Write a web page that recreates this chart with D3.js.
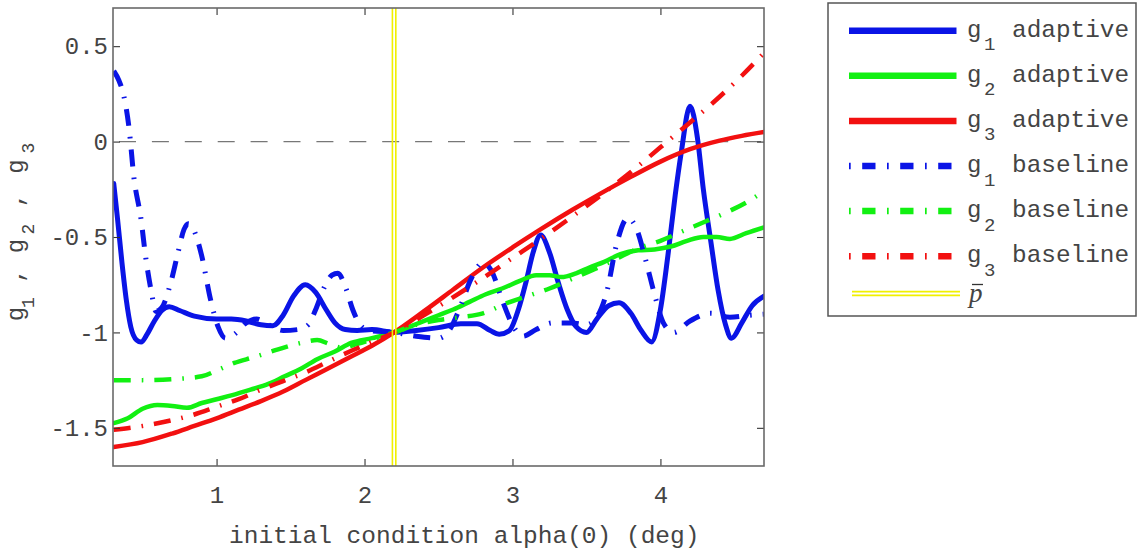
<!DOCTYPE html>
<html>
<head>
<meta charset="utf-8">
<script src="https://cdn.jsdelivr.net/npm/d3@7"></script>
<style>
  html, body { margin: 0; padding: 0; background: #fff; }
  svg { display: block; }
  text { font-family: "Liberation Mono", "DejaVu Sans Mono", monospace; fill: #444; }
</style>
</head>
<body>
<svg id="chart" width="1139" height="552"></svg>
<script>
// ---- axis ticks ----
const xTicks = [1, 2, 3, 4];
const yTicks = [-1.5, -1, -0.5, 0, 0.5];
const xLabel = "initial condition alpha(0) (deg)";

// reference initial condition (p-bar)
const pBar = 2.2;

// ---- series: [alpha(0) in deg, g value] ----
const g1Adaptive = [
  [0.305, -0.22], [0.33, -0.40], [0.36, -0.63], [0.39, -0.83], [0.42, -0.97], [0.46, -1.04],
  [0.49, -1.05], [0.53, -1.01], [0.58, -0.94], [0.63, -0.885], [0.68, -0.865], [0.75, -0.885],
  [0.85, -0.915], [1.0, -0.93], [1.1, -0.93], [1.2, -0.94], [1.3, -0.96], [1.38, -0.965],
  [1.45, -0.91], [1.52, -0.81], [1.60, -0.75], [1.67, -0.79], [1.74, -0.88], [1.80, -0.95],
  [1.87, -0.985], [1.95, -0.99], [2.05, -0.985], [2.2, -1.0], [2.35, -0.99], [2.5, -0.975],
  [2.65, -0.955], [2.76, -0.955], [2.85, -0.99], [2.91, -1.01], [2.98, -0.99], [3.04, -0.88],
  [3.09, -0.74], [3.14, -0.58], [3.19, -0.49], [3.25, -0.58], [3.31, -0.74], [3.37, -0.88],
  [3.43, -0.97], [3.5, -1.0], [3.57, -0.93], [3.65, -0.86], [3.72, -0.845], [3.80, -0.9],
  [3.87, -0.99], [3.94, -1.05], [4.0, -0.88], [4.05, -0.60], [4.10, -0.28], [4.14, -0.06],
  [4.20, 0.185], [4.25, 0.02], [4.29, -0.25], [4.34, -0.52], [4.39, -0.78], [4.44, -0.96],
  [4.48, -1.03], [4.55, -0.95], [4.62, -0.86], [4.7, -0.81]
];

const g2Adaptive = [
  [0.305, -1.475], [0.4, -1.45], [0.5, -1.40], [0.6, -1.38], [0.7, -1.385], [0.8, -1.395],
  [0.9, -1.37], [1.0, -1.35], [1.1, -1.33], [1.23, -1.30], [1.35, -1.27], [1.46, -1.23],
  [1.57, -1.19], [1.68, -1.14], [1.8, -1.10], [1.91, -1.055], [2.05, -1.03], [2.2, -1.0],
  [2.37, -0.95], [2.5, -0.91], [2.6, -0.88], [2.71, -0.84], [2.82, -0.80], [2.93, -0.77],
  [3.05, -0.73], [3.16, -0.70], [3.25, -0.70], [3.33, -0.71], [3.43, -0.69], [3.52, -0.66],
  [3.62, -0.63], [3.73, -0.59], [3.85, -0.57], [3.96, -0.565], [4.07, -0.55], [4.18, -0.52],
  [4.29, -0.50], [4.38, -0.50], [4.47, -0.51], [4.58, -0.48], [4.7, -0.45]
];

const g3Adaptive = [
  [0.305, -1.60], [0.5, -1.575], [0.7, -1.53], [0.85, -1.49], [1.0, -1.45], [1.15, -1.405],
  [1.3, -1.36], [1.45, -1.31], [1.6, -1.25], [1.75, -1.19], [1.9, -1.13], [2.05, -1.07],
  [2.2, -1.0], [2.4, -0.89], [2.6, -0.775], [2.8, -0.66], [3.0, -0.555], [3.2, -0.455],
  [3.4, -0.36], [3.6, -0.27], [3.8, -0.185], [4.0, -0.105], [4.2, -0.04], [4.4, 0.005],
  [4.55, 0.03], [4.7, 0.05]
];

const g1Baseline = [
  [0.305, 0.37], [0.34, 0.32], [0.37, 0.25], [0.41, 0.06], [0.44, -0.18], [0.49, -0.41],
  [0.52, -0.60], [0.56, -0.79], [0.59, -0.89], [0.63, -0.87], [0.69, -0.74], [0.74, -0.58],
  [0.78, -0.46], [0.81, -0.43], [0.85, -0.47], [0.9, -0.6], [0.96, -0.83], [1.01, -0.97],
  [1.06, -1.03], [1.12, -1.01], [1.2, -0.95], [1.27, -0.93], [1.35, -0.96], [1.45, -0.99],
  [1.55, -0.985], [1.62, -0.96], [1.67, -0.88], [1.73, -0.76], [1.78, -0.70], [1.82, -0.69],
  [1.87, -0.76], [1.92, -0.88], [1.97, -0.96], [2.03, -0.99], [2.2, -1.0], [2.35, -1.02],
  [2.5, -1.03], [2.58, -0.98], [2.65, -0.86], [2.72, -0.72], [2.8, -0.635], [2.86, -0.68],
  [2.93, -0.83], [3.0, -0.96], [3.07, -1.02], [3.16, -0.985], [3.27, -0.95], [3.4, -0.95],
  [3.5, -0.96], [3.57, -0.92], [3.64, -0.78], [3.7, -0.55], [3.78, -0.40], [3.84, -0.46],
  [3.9, -0.62], [3.96, -0.8], [4.02, -0.95], [4.09, -1.0], [4.2, -0.94], [4.34, -0.90],
  [4.47, -0.92], [4.6, -0.91], [4.7, -0.905]
];

const g2Baseline = [
  [0.305, -1.25], [0.5, -1.25], [0.7, -1.245], [0.9, -1.23], [1.0, -1.2], [1.12, -1.16],
  [1.25, -1.13], [1.41, -1.09], [1.57, -1.055], [1.68, -1.04], [1.76, -1.06], [1.85, -1.08],
  [1.95, -1.06], [2.08, -1.03], [2.2, -1.0], [2.35, -0.96], [2.5, -0.935], [2.65, -0.92],
  [2.8, -0.9], [2.95, -0.85], [3.1, -0.81], [3.25, -0.77], [3.4, -0.72], [3.55, -0.67],
  [3.7, -0.615], [3.85, -0.56], [4.0, -0.52], [4.15, -0.47], [4.3, -0.42], [4.45, -0.37],
  [4.6, -0.31], [4.7, -0.26]
];

const g3Baseline = [
  [0.305, -1.51], [0.5, -1.49], [0.7, -1.46], [0.85, -1.43], [1.0, -1.39], [1.15, -1.35],
  [1.3, -1.30], [1.45, -1.255], [1.6, -1.21], [1.75, -1.155], [1.9, -1.10], [2.05, -1.05],
  [2.2, -1.0], [2.4, -0.91], [2.6, -0.815], [2.8, -0.715], [3.0, -0.61], [3.2, -0.505],
  [3.4, -0.395], [3.6, -0.28], [3.8, -0.16], [4.0, -0.03], [4.2, 0.10], [4.4, 0.235],
  [4.55, 0.345], [4.7, 0.465]
];

const seriesNames = ["1", "2", "3", "1", "2", "3"];
const seriesKinds = ["adaptive", "adaptive", "adaptive", "baseline", "baseline", "baseline"];
const seriesColors = ["#0a14e6", "#12f012", "#f21010", "#0a14e6", "#12f012", "#f21010"];
const seriesData = [g1Adaptive, g2Adaptive, g3Adaptive, g1Baseline, g2Baseline, g3Baseline];

// ---- layout ----
const svg = d3.select("#chart");
const plot = { left: 113, right: 764, top: 8, bottom: 466 };

const x = d3.scaleLinear().domain([0.3, 4.7]).range([plot.left, plot.right]);
const y = d3.scaleLinear().domain([-1.7, 0.7]).range([plot.bottom, plot.top]);

const dashDot = "17,11,1.6,11";
const dashDotLegend = "13.3,11.5,1.7,11.5";
const yellow = "#f0f000";

svg.append("defs").append("clipPath").attr("id", "plotClip")
  .append("rect")
  .attr("x", plot.left).attr("y", plot.top)
  .attr("width", plot.right - plot.left).attr("height", plot.bottom - plot.top);

// zero reference line
svg.append("line")
  .attr("x1", plot.left).attr("x2", plot.right)
  .attr("y1", y(0)).attr("y2", y(0))
  .attr("stroke", "#777").attr("stroke-width", 1.4)
  .attr("stroke-dasharray", "17,15.9").attr("stroke-dashoffset", -6);

// curves
const line = d3.line()
  .x(d => x(d[0]))
  .y(d => y(d[1]))
  .curve(d3.curveMonotoneX);

const curves = svg.append("g").attr("clip-path", "url(#plotClip)");
seriesData.forEach((data, i) => {
  curves.append("path")
    .datum(data)
    .attr("d", line)
    .attr("fill", "none")
    .attr("stroke", seriesColors[i])
    .attr("stroke-width", i === 0 || i === 3 ? 5 : 4.5)
    .attr("stroke-linejoin", "round")
    .attr("stroke-linecap", seriesKinds[i] === "baseline" ? "butt" : "round")
    .attr("stroke-dasharray", seriesKinds[i] === "baseline" ? dashDot : null);
});

// p-bar marker: double yellow rule
[-1.7, 1.7].forEach(off => {
  svg.append("line")
    .attr("x1", x(pBar) + off).attr("x2", x(pBar) + off)
    .attr("y1", plot.top).attr("y2", plot.bottom)
    .attr("stroke", yellow).attr("stroke-width", 1.6);
});

// ---- axes (MATLAB-style inward ticks on all four sides) ----
const fmt = d => String(d);

const axB = svg.append("g").attr("transform", `translate(0,${plot.bottom})`)
  .call(d3.axisBottom(x).tickValues(xTicks).tickFormat(fmt).tickSize(-7).tickPadding(20));
const axT = svg.append("g").attr("transform", `translate(0,${plot.top})`)
  .call(d3.axisTop(x).tickValues(xTicks).tickFormat("").tickSize(-7));
const axL = svg.append("g").attr("transform", `translate(${plot.left},0)`)
  .call(d3.axisLeft(y).tickValues(yTicks).tickFormat(fmt).tickSize(-7).tickPadding(5));
const axR = svg.append("g").attr("transform", `translate(${plot.right},0)`)
  .call(d3.axisRight(y).tickValues(yTicks).tickFormat("").tickSize(-7));

[axB, axT, axL, axR].forEach(g => {
  g.select(".domain").remove();
  g.selectAll(".tick line").attr("stroke", "#333").attr("stroke-width", 1.1);
  g.selectAll(".tick text")
    .attr("fill", "#4a4a4a")
    .style("font-family", '"Liberation Mono", monospace')
    .style("font-size", "24px");
});

// axes box
svg.append("rect")
  .attr("x", plot.left).attr("y", plot.top)
  .attr("width", plot.right - plot.left).attr("height", plot.bottom - plot.top)
  .attr("fill", "none").attr("stroke", "#6a6a6a").attr("stroke-width", 1.6);

// x-axis label
svg.append("text")
  .attr("x", 229).attr("y", 543)
  .style("font-size", "24.5px")
  .text(xLabel);

// y-axis label "g1 , g2 , g3" (rotated, with subscripts)
const yLabelPieces = [
  ["g", 24, 314, 22.7], ["1", 18, 302.5, 34],
  [",", 24, 275.5, 22.7],
  ["g", 24, 246, 22.7], ["2", 18, 229, 34],
  [",", 24, 200, 22.7],
  ["g", 24, 166.5, 22.7], ["3", 18, 148, 34]
];
yLabelPieces.forEach(([t, fs, cy, bx]) => {
  svg.append("text")
    .attr("transform", `translate(${bx},${cy}) rotate(-90)`)
    .attr("text-anchor", "middle")
    .style("font-size", fs + "px")
    .text(t);
});

// ---- legend ----
const legend = svg.append("g");
legend.append("rect")
  .attr("x", 828).attr("y", 3).attr("width", 308).attr("height", 313)
  .attr("fill", "#fff").attr("stroke", "#555").attr("stroke-width", 1.5);

seriesData.forEach((_, i) => {
  const ly = 30.7 + i * 45.1;
  legend.append("line")
    .attr("x1", 849).attr("x2", 956.5).attr("y1", ly).attr("y2", ly)
    .attr("stroke", seriesColors[i]).attr("stroke-width", 6.5)
    .attr("stroke-dasharray", seriesKinds[i] === "baseline" ? dashDotLegend : null)
    .attr("stroke-dashoffset", seriesKinds[i] === "baseline" ? 24.8 : null);
  legend.append("text").attr("x", 967).attr("y", ly + 6).style("font-size", "24px").text("g");
  legend.append("text").attr("x", 984).attr("y", ly + 19.5).style("font-size", "19px").text(seriesNames[i]);
  legend.append("text").attr("x", 1012).attr("y", ly + 6).style("font-size", "24.4px").text(seriesKinds[i]);
});

// p-bar legend entry
[-1.8, 1.8].forEach(off => {
  legend.append("line")
    .attr("x1", 852).attr("x2", 960).attr("y1", 293.5 + off).attr("y2", 293.5 + off)
    .attr("stroke", yellow).attr("stroke-width", 1.7);
});
legend.append("text")
  .attr("x", 969).attr("y", 302)
  .style("font-family", '"Liberation Serif", "DejaVu Serif", serif')
  .style("font-style", "italic")
  .style("font-size", "27px")
  .text("p");
legend.append("line")
  .attr("x1", 972).attr("x2", 983).attr("y1", 284.5).attr("y2", 284.5)
  .attr("stroke", "#333").attr("stroke-width", 1.3);
</script>
</body>
</html>
